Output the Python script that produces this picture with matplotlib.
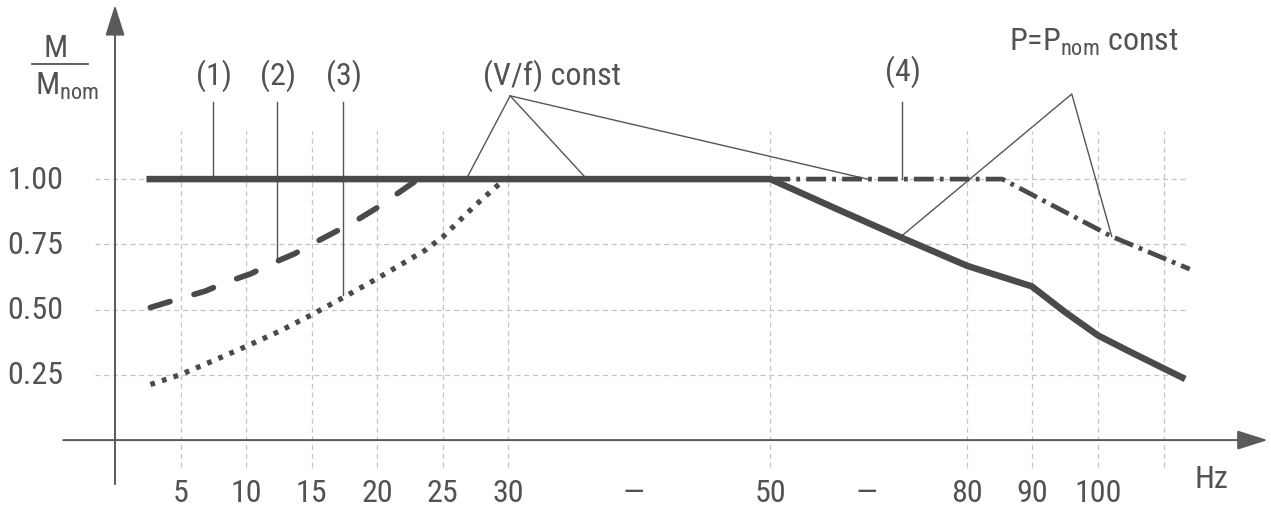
import matplotlib
matplotlib.use("Agg")
import matplotlib.pyplot as plt

# x axis is not linear: each grid step is one slot
tick_pos = [1, 2, 3, 4, 5, 6, 7.91, 10, 11.46, 13, 14, 15]
tick_labels = ['5', '10', '15', '20', '25', '30', '—', '50', '—', '80', '90', '100']
vgrid_pos = [1, 2, 3, 4, 5, 6, 10, 13, 14, 15, 16]
y_ticks = [0.25, 0.50, 0.75, 1.00]
y_labels = ['0.25', '0.50', '0.75', '1.00']

# (1) solid
c1_x = [0.48, 10.0, 11.0, 11.98, 13.0, 13.99, 14.5, 15.0, 15.5, 16.33]
c1_y = [1.00, 1.00, 0.887, 0.778, 0.668, 0.589, 0.490, 0.401, 0.337, 0.234]
# (2) dashed
c2_x = [0.54, 1.0, 1.38, 1.69, 2.07, 2.36, 2.74, 3.02, 3.40, 3.68, 4.01, 4.30, 4.63]
c2_y = [0.508, 0.543, 0.571, 0.604, 0.637, 0.673, 0.714, 0.753, 0.803, 0.841, 0.892, 0.943, 1.0]
# (3) dotted
c3_x = [0.54, 1.0, 1.48, 2.0, 2.5, 3.0, 3.51, 4.0, 4.73, 5.0, 5.49, 5.92]
c3_y = [0.213, 0.251, 0.302, 0.359, 0.416, 0.480, 0.550, 0.619, 0.727, 0.778, 0.898, 0.994]
# (4) dash-dot
c4_x = [10.0, 13.54, 15.21, 16.40]
c4_y = [1.00, 1.00, 0.780, 0.655]

plt.rcParams['font.family'] = ['Roboto Condensed', 'DejaVu Sans']
plt.rcParams['mathtext.fontset'] = 'custom'
plt.rcParams['mathtext.rm'] = 'Roboto Condensed'

txt = '#525252'
ink = '#4a4a4a'
fs = 23

fig = plt.figure(figsize=(12.71, 5.10), dpi=100)
ax = fig.add_axes([0, 0, 1, 1])
ax.set_xlim(-1.755, 17.64)
ax.set_ylim(-0.264, 1.690)
ax.axis('off')

# grid
ax.hlines(y_ticks, -0.305, 16.34, color='#c4c4c4', lw=0.9, ls=(0, (4, 3)), zorder=1)
ax.vlines(vgrid_pos, -0.103, 1.185, color='#c4c4c4', lw=0.9, ls=(0, (4, 3)), zorder=1)

# axes with arrows
arr = dict(arrowstyle='-|>,head_length=0.95,head_width=0.3', color='#5a5a5a',
           lw=1.4, shrinkA=0, shrinkB=0, mutation_scale=20)
ax.annotate('', xy=(17.59, 0), xytext=(-0.79, 0), arrowprops=arr, zorder=2)
ax.annotate('', xy=(0, 1.667), xytext=(0, -0.169), arrowprops=arr, zorder=2)

# curves
ax.plot(c1_x, c1_y, color=ink, lw=4.7, solid_capstyle='butt', solid_joinstyle='round', zorder=4)
ax.plot(c2_x, c2_y, color=ink, lw=4.1, dashes=(3.6, 4.4), dash_capstyle='round', zorder=4)
ax.plot(c3_x, c3_y, color=ink, lw=3.8, dashes=(0.9, 1.4), dash_capstyle='butt', zorder=4)
ax.plot(c4_x, c4_y, color=ink, lw=3.4, dashes=(4.2, 1.3, 0.8, 1.3), dash_capstyle='butt', zorder=4)

# tick labels
for v, lab in zip(y_ticks, y_labels):
    ax.text(-0.79, v, lab, ha='right', va='center', fontsize=fs, color=txt)
for p, lab in zip(tick_pos, tick_labels):
    ax.text(p, -0.2, lab, ha='center', va='center', fontsize=fs, color=txt)
ax.text(16.73, -0.149, 'Hz', ha='center', va='center', fontsize=fs, color=txt)

# y label as fraction
ax.text(-0.90, 1.472, 'M', ha='center', va='baseline', fontsize=fs, color=txt)
ax.plot([-1.266, -0.41], [1.44, 1.44], color=txt, lw=1.3)
ax.text(-0.735, 1.326, r'M$_\mathrm{nom}$', ha='center', va='baseline', fontsize=fs, color=txt)

# callouts
lc = dict(color='#555555', lw=1.0, zorder=3)
for x, lab, yend in [(1.49, '(1)', 1.0), (2.47, '(2)', 0.695), (3.48, '(3)', 0.556)]:
    ax.text(x + 0.02, 1.40, lab, ha='center', va='center', fontsize=fs, color=txt)
    ax.plot([x, x], [1.296, yend], **lc)

ax.text(6.67, 1.40, '(V/f) const', ha='center', va='center', fontsize=fs, color=txt)
for xe in [5.36, 7.20, 11.48]:
    ax.plot([6.03, xe], [1.319, 1.0], **lc)

ax.text(12.03, 1.415, '(4)', ha='center', va='center', fontsize=fs, color=txt)
ax.plot([12.01, 12.01], [1.296, 1.0], **lc)

ax.text(14.93, 1.498, r'P=P$_\mathrm{nom}$ const', ha='center', va='baseline', fontsize=fs, color=txt)
ax.plot([11.98, 14.60, 15.21], [0.777, 1.326, 0.780], **lc)

fig.savefig('out.png', dpi=100, facecolor='white')
